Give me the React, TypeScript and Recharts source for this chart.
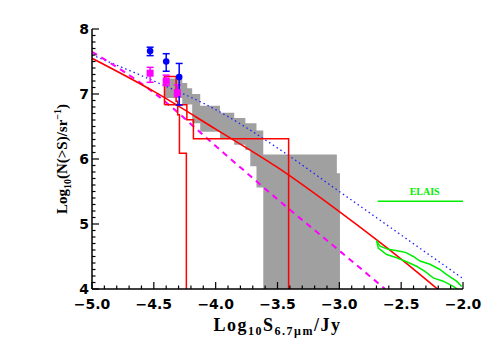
import { ComposedChart, Line, Area, Scatter, ErrorBar, XAxis, YAxis, ReferenceDot, Label } from 'recharts';

// grey band: bin edges and the upper / lower bound in each bin
const bandEdges = [-4.41, -4.27, -4.23, -4.19, -4.125, -3.965, -3.85, -3.76, -3.72, -3.67, -3.615, -3.02, -2.995];
const bandHigh = [7.24, 7.17, 7.09, 7.0, 6.82, 6.71, 6.63, 6.55, 6.55, 6.44, 6.07, 5.78];
const bandLow = [6.94, 6.84, 6.84, 6.55, 6.42, 6.32, 6.22, 6.14, 5.89, 5.56, 4.0, 4.0];

// model curves
const redX = [-5.0, -4.5, -4.0, -3.5, -3.0, -2.5, -2.2];
const redY = [7.55, 7.04, 6.46, 5.87, 5.19, 4.46, 3.99];
const blueX = [-5.0, -4.5, -4.0, -3.5, -3.0, -2.5, -2.0];
const blueY = [7.6, 7.2, 6.76, 6.17, 5.5, 4.83, 4.16];
const magX = [-5.0, -4.5, -4.0, -3.5, -3.0, -2.63];
const magY = [7.65, 7.02, 6.2, 5.38, 4.59, 4.0];

// red step bounds
const stepLowX = [-4.414, -4.414, -4.32, -4.32, -4.307, -4.307, -4.293, -4.293, -4.237, -4.237];
const stepLowY = [6.835, 7.27, 7.27, 6.89, 6.89, 6.68, 6.68, 6.09, 6.09, 4.0];
const stepHighX = [-4.414, -4.233, -4.233, -4.18, -4.18, -3.41, -3.41];
const stepHighY = [6.835, 6.835, 6.605, 6.605, 6.31, 6.31, 4.0];

// ELAIS
const elaisLineX = [-2.69, -2.0];
const elaisLineY = [5.35, 5.35];
const elaisUpX = [-2.698, -2.671, -2.604, -2.51, -2.46, -2.402, -2.348, -2.267, -2.187, -2.132, -2.052, -2.011];
const elaisUpY = [4.74, 4.66, 4.61, 4.58, 4.56, 4.5, 4.43, 4.38, 4.3, 4.22, 4.12, 4.04];
const elaisLoX = [-2.698, -2.685, -2.617, -2.536, -2.456, -2.375, -2.308, -2.241, -2.16, -2.079, -2.039];
const elaisLoY = [4.74, 4.63, 4.53, 4.48, 4.42, 4.35, 4.27, 4.17, 4.12, 4.04, 3.99];

// measured counts with errors [low, high]
const bluePtX = [-4.53, -4.4, -4.295];
const bluePtY = [7.66, 7.5, 7.26];
const bluePtErr = [[0.07, 0.06], [0.15, 0.12], [0.43, 0.21]];
const magPtX = [-4.53, -4.4, -4.31];
const magPtY = [7.32, 7.2, 7.02];
const magPtErr = [[0.14, 0.09], [0.07, 0.09], [0.06, 0.12]];

const xMajor = [-5.0, -4.5, -4.0, -3.5, -3.0, -2.5, -2.0];
const yMajor = [4, 5, 6, 7, 8];

const minorTicks = (lo: number, hi: number, step: number) => {
  const out: number[] = [];
  const n = Math.round((hi - lo) / step);
  for (let i = 0; i <= n; i++) out.push(Math.round((lo + i * step) * 1000) / 1000);
  return out;
};
const xTicks = minorTicks(-5, -2, 0.1);
const yTicks = minorTicks(4, 8, 0.1);

const toXY = (xs: number[], ys: number[]) => xs.map((x, i) => ({ x, y: ys[i] }));

const bandData = bandHigh.flatMap((hi, i) => [
  { x: bandEdges[i], range: [bandLow[i], hi] },
  { x: bandEdges[i + 1], range: [bandLow[i], hi] },
]);
const bluePts = bluePtX.map((x, i) => ({ x, y: bluePtY[i], err: bluePtErr[i] }));
const magPts = magPtX.map((x, i) => ({ x, y: magPtY[i], err: magPtErr[i] }));

const near = (v: number, list: number[]) => list.some((m) => Math.abs(m - v) < 1e-6);
const fmt = (v: number, d: number) => v.toFixed(d).replace('-', '\u2212');

const TICK = 'DejaVu Sans';
const SERIF = 'Liberation Serif';

const BottomTick = (p: any) => {
  const major = near(p.payload.value, xMajor);
  return (
    <g>
      <line x1={p.x} x2={p.x} y1={p.y} y2={p.y - (major ? 7 : 3.5)} stroke="#000" strokeWidth={1.2} />
      {major && (
        <text x={p.x} y={p.y + 20} textAnchor="middle" fontFamily={TICK} fontWeight="bold" fontSize={14} fill="#000">
          {fmt(p.payload.value, 1)}
        </text>
      )}
    </g>
  );
};
const TopTick = (p: any) => {
  const major = near(p.payload.value, xMajor);
  return <line x1={p.x} x2={p.x} y1={p.y} y2={p.y + (major ? 7 : 3.5)} stroke="#000" strokeWidth={1.2} />;
};
const LeftTick = (p: any) => {
  const major = near(p.payload.value, yMajor);
  return (
    <g>
      <line x1={p.x} x2={p.x + (major ? 7 : 3.5)} y1={p.y} y2={p.y} stroke="#000" strokeWidth={1.2} />
      {major && (
        <text x={p.x - 3} y={p.y + 5} textAnchor="end" fontFamily={TICK} fontWeight="bold" fontSize={14} fill="#000">
          {fmt(p.payload.value, 0)}
        </text>
      )}
    </g>
  );
};
const RightTick = (p: any) => {
  const major = near(p.payload.value, yMajor);
  return <line x1={p.x} x2={p.x - (major ? 7 : 3.5)} y1={p.y} y2={p.y} stroke="#000" strokeWidth={1.2} />;
};

const XTitle = (p: any) => {
  const vb = p.viewBox;
  return (
    <text x={vb.x + vb.width / 2} y={vb.y + 42} textAnchor="middle" fontFamily={SERIF} fontWeight="bold" fontSize={18} letterSpacing={1.5} fill="#000">
      <tspan>Log</tspan>
      <tspan dy={4} fontSize={12}>10</tspan>
      <tspan dy={-4}>S</tspan>
      <tspan dy={4} fontSize={12}>6.7μm</tspan>
      <tspan dy={-4}>/Jy</tspan>
    </text>
  );
};
const YTitle = (p: any) => {
  const vb = p.viewBox;
  const cx = vb.x + 67;
  const cy = vb.y + vb.height / 2;
  return (
    <text x={cx} y={cy} transform={`rotate(-90 ${cx} ${cy})`} textAnchor="middle" fontFamily={SERIF} fontWeight="bold" fontSize={15} fill="#000">
      <tspan>Log</tspan>
      <tspan dy={4} fontSize={10}>10</tspan>
      <tspan dy={-4}>(N(&gt;S)/sr</tspan>
      <tspan dy={-6} fontSize={10}>{'\u22121'}</tspan>
      <tspan dy={6}>)</tspan>
    </text>
  );
};

const Dot = (p: any) => <circle cx={p.cx} cy={p.cy} r={3.3} fill="#0000ff" />;
const Square = (p: any) => <rect x={p.cx - 3.5} y={p.cy - 3.5} width={7} height={7} fill="#ff00ff" />;

const ax = { xAxisId: 'b', yAxisId: 'l' };

export default function App() {
  return (
    <div style={{ position: 'absolute', left: 0, top: 0, width: 491, height: 350, background: '#fff' }}>
      <ComposedChart width={491} height={350} margin={{ top: 29, right: 28, bottom: 0, left: 0 }}>
        <XAxis xAxisId="b" dataKey="x" type="number" domain={[-5, -2]} allowDataOverflow ticks={xTicks} interval={0}
          tick={BottomTick} tickLine={false} tickSize={0} tickMargin={0} height={61} axisLine={{ stroke: '#000', strokeWidth: 1.5 }}>
          <Label content={XTitle} />
        </XAxis>
        <XAxis xAxisId="t" orientation="top" dataKey="x" type="number" domain={[-5, -2]} allowDataOverflow ticks={xTicks} interval={0}
          tick={TopTick} tickLine={false} tickSize={0} tickMargin={0} height={0} axisLine={{ stroke: '#000', strokeWidth: 1.5 }} />
        <YAxis yAxisId="l" type="number" domain={[4, 8]} allowDataOverflow ticks={yTicks} interval={0}
          tick={LeftTick} tickLine={false} tickSize={0} tickMargin={0} width={92} axisLine={{ stroke: '#000', strokeWidth: 1.5 }}>
          <Label content={YTitle} />
        </YAxis>
        <YAxis yAxisId="r" orientation="right" type="number" domain={[4, 8]} allowDataOverflow ticks={yTicks} interval={0}
          tick={RightTick} tickLine={false} tickSize={0} tickMargin={0} width={0} axisLine={{ stroke: '#000', strokeWidth: 1.5 }} />

        <Area {...ax} data={bandData} dataKey="range" type="linear" fill="#a0a0a0" fillOpacity={1} stroke="none" isAnimationActive={false} />

        <Line {...ax} data={toXY(blueX, blueY)} dataKey="y" type="monotone" stroke="#2020ff" strokeWidth={1.3} strokeDasharray="1.5 3" dot={false} isAnimationActive={false} />
        <Line {...ax} data={toXY(magX, magY)} dataKey="y" type="monotone" stroke="#ff00ff" strokeWidth={2} strokeDasharray="6 5" dot={false} isAnimationActive={false} />
        <Line {...ax} data={toXY(redX, redY)} dataKey="y" type="monotone" stroke="#ff0000" strokeWidth={1.6} dot={false} isAnimationActive={false} />

        <Line {...ax} data={toXY(stepLowX, stepLowY)} dataKey="y" type="linear" stroke="#ff0000" strokeWidth={1.5} dot={false} isAnimationActive={false} />
        <Line {...ax} data={toXY(stepHighX, stepHighY)} dataKey="y" type="linear" stroke="#ff0000" strokeWidth={1.5} dot={false} isAnimationActive={false} />

        <Line {...ax} data={toXY(elaisLineX, elaisLineY)} dataKey="y" type="linear" stroke="#00ee00" strokeWidth={1.5} dot={false} isAnimationActive={false} />
        <Line {...ax} data={toXY(elaisUpX, elaisUpY)} dataKey="y" type="linear" stroke="#00ee00" strokeWidth={1.5} dot={false} isAnimationActive={false} />
        <Line {...ax} data={toXY(elaisLoX, elaisLoY)} dataKey="y" type="linear" stroke="#00ee00" strokeWidth={1.5} dot={false} isAnimationActive={false} />

        <Scatter {...ax} data={magPts} dataKey="y" shape={Square} isAnimationActive={false}>
          <ErrorBar dataKey="err" direction="y" width={3.5} stroke="#ff00ff" strokeWidth={1.5} />
        </Scatter>
        <Scatter {...ax} data={bluePts} dataKey="y" shape={Dot} isAnimationActive={false}>
          <ErrorBar dataKey="err" direction="y" width={3.5} stroke="#0000ff" strokeWidth={1.5} />
        </Scatter>

        <ReferenceDot {...ax} x={-2.31} y={5.5} r={0} stroke="none" fill="none"
          label={{ value: 'ELAIS', position: 'center', fill: '#00ee00', fontSize: 10, fontWeight: 'bold', fontFamily: SERIF }} />
      </ComposedChart>
    </div>
  );
}
